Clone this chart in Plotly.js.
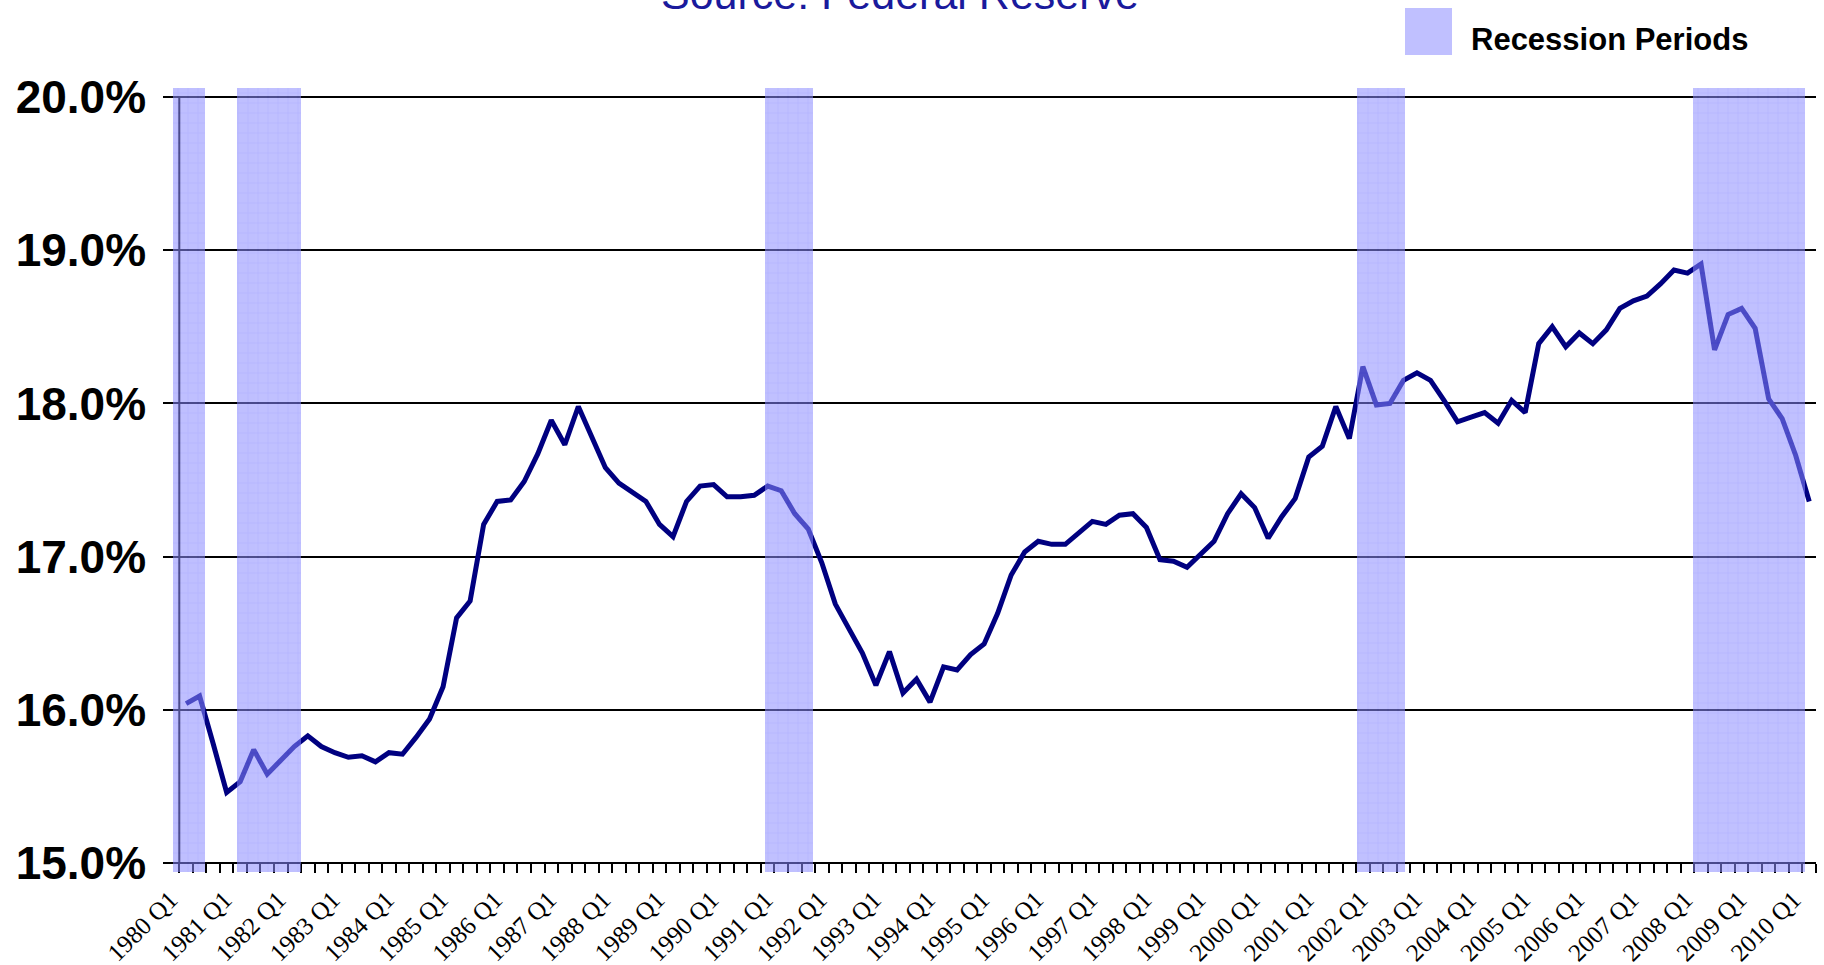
<!DOCTYPE html>
<html><head><meta charset="utf-8">
<script src="https://cdn.plot.ly/plotly-3.0.1.min.js"></script>
<style>html,body{margin:0;padding:0;background:#fff;overflow:hidden;} #chart{width:1824px;height:965px;}</style>
</head><body><div id="chart"></div>
<script>
// ---- data ----
const startYear = 1980;
const quarterCount = 121; // 1980 Q1 .. 2010 Q1
const quarters = [];
for (let i = 0; i < quarterCount; i++) {
  quarters.push((startYear + Math.floor(i / 4)) + ' Q' + (i % 4 + 1));
}
const tickLabels = quarters.filter(q => q.endsWith('Q1'));

const seriesValues = [
  16.04, 16.09, 15.78, 15.46, 15.53, 15.74, 15.58, 15.67, 15.76, 15.83,
  15.76, 15.72, 15.69, 15.70, 15.66, 15.72, 15.71, 15.82, 15.94, 16.15,
  16.60, 16.71, 17.21, 17.36, 17.37, 17.49, 17.67, 17.89, 17.73, 17.98,
  17.78, 17.58, 17.48, 17.42, 17.36, 17.21, 17.13, 17.36, 17.46, 17.47,
  17.39, 17.39, 17.40, 17.46, 17.43, 17.28, 17.18, 16.96, 16.69, 16.53,
  16.37, 16.16, 16.38, 16.11, 16.20, 16.05, 16.28, 16.26, 16.36, 16.43,
  16.63, 16.88, 17.03, 17.10, 17.08, 17.08, 17.16, 17.23, 17.21, 17.27,
  17.28, 17.19, 16.98, 16.97, 16.93, 17.01, 17.10, 17.28, 17.41, 17.32,
  17.12, 17.26, 17.38, 17.65, 17.72, 17.98, 17.77, 18.24, 17.99, 18.00,
  18.15, 18.20, 18.15, 18.02, 17.88, 17.91, 17.94, 17.87, 18.02, 17.94,
  18.39, 18.50, 18.37, 18.46, 18.39, 18.48, 18.62, 18.67, 18.70, 18.78,
  18.87, 18.85, 18.91, 18.35, 18.58, 18.62, 18.49, 18.03, 17.90, 17.66,
  17.36
];

// recession bands, in quarter-index units (0 = 1980 Q1)
const recessionStart = [-0.95, 3.79, 42.81, 86.58, 111.42];
const recessionEnd   = [ 1.40, 8.50, 46.33, 90.13, 119.68];

const yTickValues = [15, 16, 17, 18, 19, 20];
const yTickLabels = ['15.0%', '16.0%', '17.0%', '18.0%', '19.0%', '20.0%'];

// ---- derived (layout helpers) ----
const bandCenters = recessionStart.map((s, k) => (s + recessionEnd[k]) / 2);
const bandWidths = recessionStart.map((s, k) => recessionEnd[k] - s);
const boundaryTicks = [], boundaryText = [];
for (let k = 0; k <= quarterCount; k++) {
  boundaryTicks.push(k - 0.5);
  boundaryText.push(k < quarterCount && k % 4 === 0 ? quarters[k] : '');
}

const W = 1824, H = 965;
const mL = 173, mR = 8, mT = 88, mB = 93;
const plotW = W - mL - mR, plotH = H - mT - mB;
const xMin = -0.966, xMax = quarterCount - 0.5;
const yPad = 9 / 153.2;
const yMin = 15 - yPad, yMax = 20 + yPad;
const px2paperX = p => (p - mL) / plotW;
const px2paperY = p => (H - mB - p) / plotH;
const axisPosX = px2paperX(179.3);
const axisPosY = px2paperY(863);

const lineTrace = {
  type: 'scatter', mode: 'lines',
  x: quarters, y: seriesValues,
  xaxis: 'x', yaxis: 'y',
  line: {color: '#000080', width: 5},
  showlegend: false, hoverinfo: 'x+y'
};

const bandTrace = {
  type: 'bar',
  x: bandCenters, width: bandWidths,
  y: bandCenters.map(() => 1),
  base: 0,
  xaxis: 'x2', yaxis: 'y2',
  marker: {
    color: 'rgb(140,140,255)',
    line: {width: 0},
    pattern: {shape: '+', size: 10, solidity: 0.1, fgcolor: 'rgb(80,80,255)', fillmode: 'overlay'}
  },
  opacity: 0.55,
  showlegend: false, hoverinfo: 'skip', name: 'Recession Periods'
};

const layout = {
  width: W, height: H,
  margin: {l: mL, r: mR, t: mT, b: mB, pad: 0},
  paper_bgcolor: '#ffffff', plot_bgcolor: '#ffffff',
  showlegend: false,
  bargap: 0,
  title: {
    text: 'Source: Federal Reserve',
    font: {family: 'Arial, "Liberation Sans", sans-serif', size: 43, color: '#1a1a9c'},
    x: 0.4934, xref: 'container', xanchor: 'center',
    y: 1 - 9 / H, yref: 'container', yanchor: 'bottom'
  },
  xaxis: {
    type: 'category', categoryorder: 'array', categoryarray: quarters,
    range: [xMin, xMax], visible: false,
    showgrid: false, zeroline: false
  },
  xaxis2: {
    type: 'linear', overlaying: 'x', anchor: 'free', position: axisPosY, side: 'bottom',
    range: [xMin, xMax],
    tickmode: 'array', tickvals: boundaryTicks, ticktext: boundaryText,
    ticks: 'outside', ticklen: 9, tickwidth: 2, tickcolor: '#000',
    tickangle: -45, ticklabelshift: -9, ticklabelstandoff: 2,
    tickfont: {family: '"Times New Roman", "Liberation Serif", serif', size: 25, color: '#000'},
    showline: false, showgrid: false, zeroline: false,
    layer: 'below traces'
  },
  yaxis: {
    range: [yMin, yMax], anchor: 'free', position: axisPosX,
    tickmode: 'array', tickvals: yTickValues, ticktext: yTickLabels,
    tickfont: {family: 'Arial, "Liberation Sans", sans-serif', size: 46, color: '#000', weight: 'bold'},
    ticks: 'outside', ticklen: 16, tickwidth: 2, tickcolor: '#000',
    ticklabelstandoff: 8,
    showgrid: true, gridcolor: '#000', gridwidth: 2,
    showline: false, zeroline: false, layer: 'below traces'
  },
  yaxis2: {
    overlaying: 'y', range: [0, 1], visible: false, showgrid: false, zeroline: false
  },
  shapes: [
    { // vertical axis line
      type: 'line', xref: 'x2', yref: 'y', layer: 'below',
      x0: -0.5, x1: -0.5, y0: 15, y1: 20,
      line: {color: '#000', width: 2}
    },
    { // legend swatch
      type: 'rect', xref: 'paper', yref: 'paper',
      x0: px2paperX(1405), x1: px2paperX(1452),
      y0: px2paperY(55), y1: px2paperY(8),
      fillcolor: 'rgb(192,192,255)', line: {width: 0}
    }
  ],
  annotations: [{
    text: '<b>Recession Periods</b>', showarrow: false,
    xref: 'paper', yref: 'paper',
    x: px2paperX(1469), xanchor: 'left',
    y: px2paperY(39), yanchor: 'middle',
    font: {family: 'Arial, "Liberation Sans", sans-serif', size: 31, color: '#000'}
  }]
};

Plotly.newPlot('chart', [lineTrace, bandTrace], layout, {displayModeBar: false, staticPlot: true});
</script>
</body></html>
